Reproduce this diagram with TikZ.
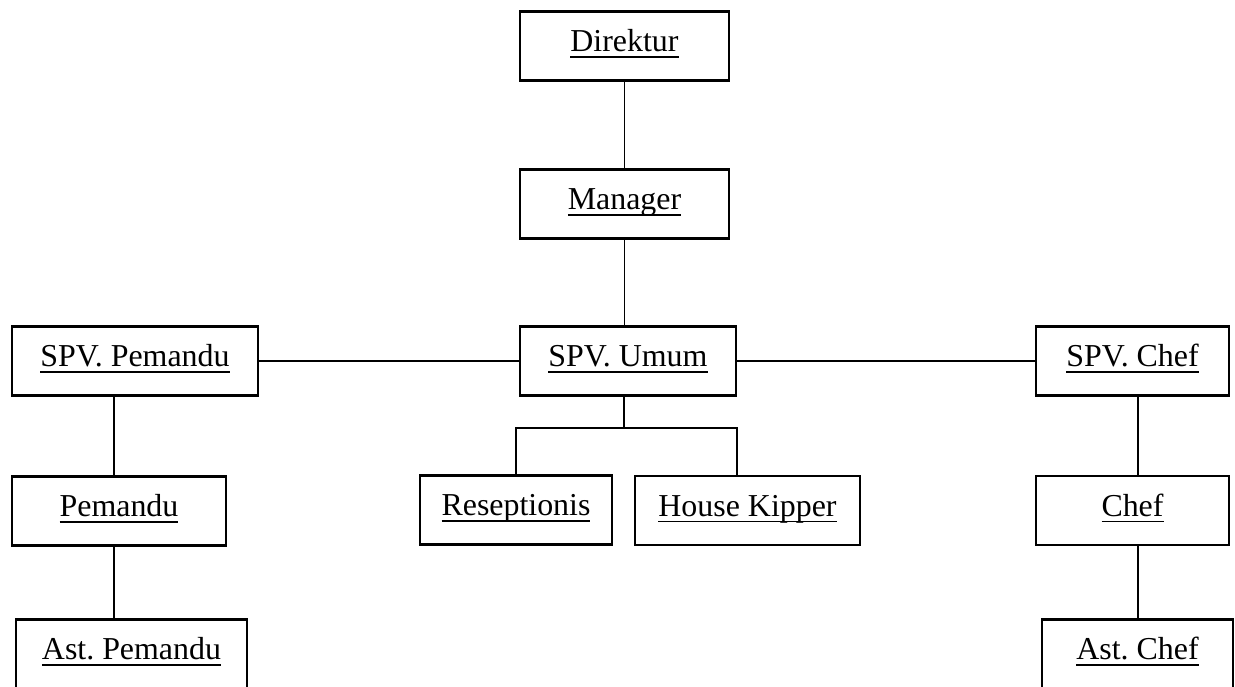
\documentclass[tikz,border=0pt]{standalone}
\usepackage{fontspec}
\setmainfont{Liberation Serif}
\frenchspacing
\newcommand{\ulabel}[1]{\setbox0\hbox{#1}\rlap{\rule[-2.3pt]{\wd0}{0.7pt}}\box0}

\begin{document}
\begin{tikzpicture}[
    x=0.376pt,y=-0.376pt,
    box/.style={draw,line width=0.8pt,inner sep=0pt,align=center,
                minimum height=69*0.376pt,text height=8pt,text depth=3.6pt,
                font=\fontsize{12}{14}\selectfont},
    link/.style={draw,line width=0.7pt},
  ]
    \useasboundingbox (0,0) rectangle (1235,686);
    \clip (0,0) rectangle (1235,686);
    \node[box,minimum width=209*0.376pt] (dir)   at (624.5,46)   {\ulabel{Direktur}};
    \node[box,minimum width=209*0.376pt] (man)   at (624.5,204)  {\ulabel{Manager}};
    \node[box,minimum width=216*0.376pt] (umum)  at (628,361)    {\ulabel{SPV. Umum}};
    \node[box,minimum width=246*0.376pt] (spvp)  at (135,361)    {\ulabel{SPV. Pemandu}};
    \node[box,minimum width=193*0.376pt] (spvc)  at (1132.5,361) {\ulabel{SPV. Chef}};
    \node[box,minimum width=214*0.376pt] (pem)   at (119,511)    {\ulabel{Pemandu}};
    \node[box,minimum width=192*0.376pt] (resep) at (516,510)    {\ulabel{Reseptionis}};
    \node[box,minimum width=225*0.376pt] (hk)    at (747.5,510.5) {\ulabel{House Kipper}};
    \node[box,minimum width=193*0.376pt] (chef)  at (1132.5,510.5) {\ulabel{Chef}};
    \node[box,minimum width=231*0.376pt] (astp)  at (131.5,654)  {\ulabel{Ast. Pemandu}};
    \node[box,minimum width=191*0.376pt] (astc)  at (1137.5,654) {\ulabel{Ast. Chef}};
    \coordinate (bar) at (624,428);
    \coordinate (lp) at (114,0);
    \coordinate (rp) at (1138,0);
    \draw[link] (dir) -- (man);
    \draw[link] (man) -- (man |- umum.north);
    \draw[link] (spvp) -- (umum);
    \draw[link] (umum) -- (spvc);
    \draw[link] (bar |- umum.south) -- (bar);
    \draw[link] (resep.north) |- (bar) -| (hk.north -| umum.east);
    \draw[link] (spvp.south -| lp) -- (pem.north -| lp);
    \draw[link] (pem.south -| lp) -- (astp.north -| lp);
    \draw[link] (spvc.south -| rp) -- (chef.north -| rp);
    \draw[link] (chef.south -| rp) -- (astc.north -| rp);
  \end{tikzpicture}
\end{document}
